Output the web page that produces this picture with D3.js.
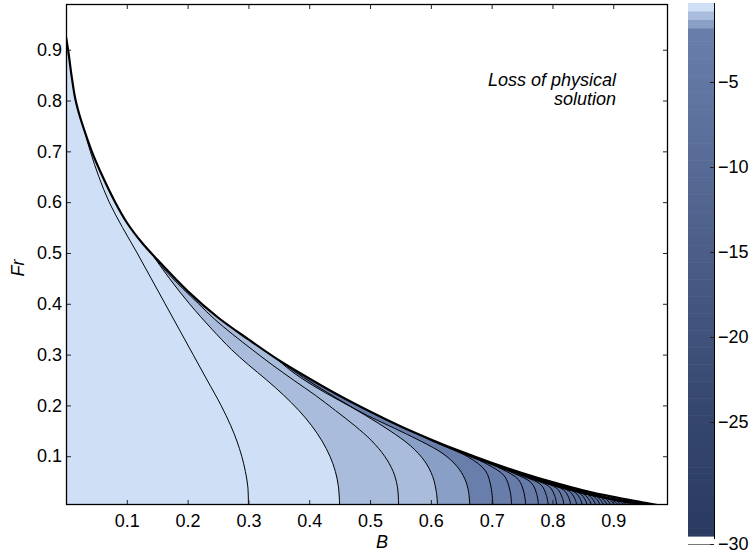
<!DOCTYPE html>
<html>
<head>
<meta charset="utf-8">
<script src="https://d3js.org/d3.v7.min.js"></script>
<style>
  body { margin: 0; background: #fff; }
  svg { display: block; font-family: "Liberation Sans", Arial, Helvetica, sans-serif; }
</style>
</head>
<body>
<div id="chart"></div>
<script>
// edge of the physical solution (B, Fr)
const boundaryB  = [0, 0.004, 0.009, 0.015, 0.022, 0.03, 0.045, 0.06, 0.08, 0.10, 0.125, 0.15, 0.20, 0.25, 0.30, 0.35, 0.40, 0.45, 0.50, 0.55, 0.60, 0.65, 0.70, 0.75, 0.80, 0.85, 0.90, 0.95, 0.977];
const boundaryFr = [0.925, 0.895, 0.85, 0.805, 0.772, 0.742, 0.692, 0.651, 0.602, 0.56, 0.52, 0.487, 0.425, 0.373, 0.330, 0.289, 0.253, 0.219, 0.188, 0.159, 0.133, 0.109, 0.087, 0.067, 0.049, 0.033, 0.020, 0.009, 0.003];

// contour levels, one per line below
const levels = [-0.5, -1.0, -1.2, -1.5, -2.0, -2.5, -3.0, -3.5, -4.0, -4.5, -5.0, -5.5, -6.0, -6.5, -7.0, -7.5, -8.0, -8.5, -9.0,
                -9.5, -10.0, -10.5, -11.0, -11.5, -12.0, -12.5, -13.0, -13.5, -14.0, -14.5, -15.0, -15.5, -16.0, -16.5, -17.0, -17.5, -18.0];

// contour lines, points (B, Fr), from the B axis upwards
const contourLines = [
  [[0.300,0.004],[0.299,0.04],[0.295,0.07],[0.289,0.10],[0.281,0.13],[0.271,0.16],[0.255,0.20],[0.232,0.25],[0.209,0.30],[0.186,0.35],[0.163,0.40],[0.140,0.45],[0.117,0.50],[0.093,0.55],[0.071,0.60],[0.054,0.65],[0.040,0.70],[0.026,0.76],[0.012,0.84]],
  [[0.450,0.004],[0.448,0.04],[0.443,0.07],[0.434,0.10],[0.421,0.13],[0.404,0.16],[0.383,0.19],[0.358,0.22],[0.330,0.25],[0.300,0.28],[0.272,0.31],[0.240,0.35],[0.203,0.40],[0.170,0.45],[0.140,0.50],[0.112,0.55]],
  [[0.547,0.004],[0.545,0.04],[0.538,0.07],[0.524,0.10],[0.503,0.13],[0.475,0.16],[0.443,0.19],[0.410,0.22],[0.374,0.25],[0.339,0.28],[0.306,0.31],[0.274,0.34],[0.244,0.37],[0.218,0.40],[0.192,0.43],[0.160,0.47],[0.122,0.53]],
  [[0.611,0.004],[0.609,0.03],[0.603,0.06],[0.590,0.09],[0.567,0.12],[0.533,0.15],[0.493,0.18],[0.451,0.21],[0.410,0.24],[0.372,0.27],[0.336,0.30],[0.302,0.33],[0.270,0.36],[0.232,0.40]],
  [[0.664,0.004],[0.662,0.03],[0.656,0.055],[0.643,0.08],[0.620,0.105],[0.583,0.13],[0.540,0.155],[0.496,0.18],[0.449,0.21],[0.405,0.24],[0.368,0.27],[0.330,0.31]],
  [[0.702,0.004],[0.699,0.039],[0.690,0.071],[0.662,0.098],[0.602,0.130],[0.502,0.189]],
  [[0.733,0.004],[0.730,0.033],[0.721,0.061],[0.693,0.084],[0.633,0.115],[0.533,0.171]],
  [[0.756,0.004],[0.753,0.029],[0.744,0.054],[0.716,0.075],[0.656,0.104],[0.556,0.158]],
  [[0.777,0.004],[0.774,0.026],[0.765,0.048],[0.737,0.066],[0.677,0.095],[0.577,0.147]],
  [[0.793,0.004],[0.790,0.023],[0.781,0.044],[0.753,0.060],[0.693,0.088],[0.593,0.139]],
  [[0.807,0.004],[0.804,0.021],[0.795,0.040],[0.767,0.055],[0.707,0.082],[0.607,0.132]],
  [[0.819,0.004],[0.816,0.019],[0.807,0.037],[0.779,0.051],[0.719,0.077],[0.619,0.126]],
  [[0.830,0.004],[0.827,0.018],[0.818,0.034],[0.790,0.047],[0.730,0.073],[0.630,0.121]],
  [[0.840,0.004],[0.837,0.016],[0.828,0.031],[0.800,0.043],[0.740,0.069],[0.640,0.116]],
  [[0.849,0.004],[0.846,0.015],[0.837,0.029],[0.809,0.040],[0.749,0.065],[0.649,0.111]],
  [[0.857,0.004],[0.854,0.014],[0.845,0.027],[0.817,0.038],[0.757,0.062],[0.657,0.108]],
  [[0.864,0.004],[0.861,0.013],[0.852,0.025],[0.824,0.035],[0.764,0.060],[0.664,0.105]],
  [[0.871,0.004],[0.868,0.012],[0.859,0.024],[0.831,0.033],[0.771,0.057],[0.671,0.102]],
  [[0.878,0.004],[0.875,0.012],[0.866,0.022],[0.838,0.031],[0.778,0.055],[0.678,0.099]],
  [[0.884,0.004],[0.881,0.011],[0.872,0.021],[0.844,0.029],[0.784,0.053],[0.684,0.096]],
  [[0.890,0.004],[0.887,0.010],[0.878,0.020],[0.850,0.027],[0.790,0.051],[0.690,0.093]],
  [[0.896,0.004],[0.893,0.0095],[0.884,0.019],[0.856,0.025],[0.796,0.048],[0.696,0.091]],
  [[0.902,0.004],[0.899,0.009],[0.890,0.018],[0.862,0.024],[0.802,0.046],[0.702,0.088]],
  [[0.908,0.004],[0.905,0.008],[0.896,0.016],[0.868,0.022],[0.808,0.044],[0.708,0.086]],
  [[0.913,0.004],[0.910,0.0077],[0.901,0.015],[0.873,0.021],[0.813,0.043],[0.713,0.084]],
  [[0.918,0.004],[0.915,0.0072],[0.906,0.0146],[0.878,0.020],[0.818,0.041],[0.718,0.082]],
  [[0.923,0.004],[0.920,0.0067],[0.911,0.0137],[0.883,0.018],[0.823,0.040],[0.723,0.080]],
  [[0.928,0.004],[0.925,0.0062],[0.916,0.0129],[0.888,0.017],[0.828,0.038],[0.728,0.078]],
  [[0.933,0.004],[0.930,0.0057],[0.921,0.012],[0.893,0.016],[0.833,0.036],[0.733,0.076]],
  [[0.938,0.004],[0.935,0.0052],[0.926,0.0112],[0.898,0.0145],[0.838,0.035],[0.738,0.074]],
  [[0.942,0.004],[0.939,0.0049],[0.930,0.0105],[0.902,0.0136],[0.842,0.0336],[0.742,0.072]],
  [[0.946,0.004],[0.943,0.0047],[0.934,0.0098],[0.906,0.0127],[0.846,0.032],[0.746,0.071]],
  [[0.950,0.004],[0.947,0.0046],[0.938,0.009],[0.910,0.012],[0.850,0.031],[0.750,0.069]],
  [[0.954,0.004],[0.951,0.0045],[0.942,0.0084],[0.914,0.011],[0.854,0.030],[0.754,0.068]],
  [[0.958,0.004],[0.955,0.0045],[0.946,0.0077],[0.918,0.010],[0.858,0.029],[0.758,0.066]],
  [[0.962,0.004],[0.960,0.0045],[0.950,0.0070],[0.922,0.0092],[0.862,0.028],[0.762,0.065]],
  [[0.966,0.004],[0.964,0.0045],[0.954,0.0063],[0.926,0.0083],[0.866,0.027],[0.766,0.063]]
];

const xTicks = [0.1, 0.2, 0.3, 0.4, 0.5, 0.6, 0.7, 0.8, 0.9];
const yTicks = [0.1, 0.2, 0.3, 0.4, 0.5, 0.6, 0.7, 0.8, 0.9];
const cbarTicks = [-5, -10, -15, -20, -25, -30];
const cbarTickPos = [82, 167, 252, 337, 422, 544];
const noteLines = ["Loss of physical", "solution"];

const width = 752, height = 554;
const plot = { left: 66, right: 668, top: 4, bottom: 505 };
const cbar = { left: 688, right: 714, top: 3, bottom: 536 };

const x = d3.scaleLinear().domain([0, 0.99]).range([plot.left, plot.right]);
const y = d3.scaleLinear().domain([0.004, 0.99]).range([plot.bottom, plot.top]);

// colour map: three flat light steps, then a blue ramp
const ramp = d3.scaleLinear().domain([-1.75, -29.6]).range(["#6a7fac", "#2a3a60"]).clamp(true);
function fillColor(v) {
  if (v > -0.75) return "#cfe0f6";
  if (v > -1.25) return "#a9bcdc";
  if (v > -1.75) return "#8a9fc6";
  return ramp(v);
}

const svg = d3.select("#chart").append("svg")
  .attr("width", width)
  .attr("height", height);

const defs = svg.append("defs");

const line = d3.line()
  .x(d => x(d[0]))
  .y(d => y(d[1]))
  .curve(d3.curveCatmullRom.alpha(0.5));

const boundary = d3.zip(boundaryB, boundaryFr);
const boundaryPath = line(boundary);
const underBoundary = boundaryPath + `L${x(0.99)},${plot.bottom + 2}L${plot.left},${plot.bottom + 2}Z`;

defs.append("clipPath").attr("id", "plot-clip")
  .append("rect")
  .attr("x", plot.left).attr("y", plot.top)
  .attr("width", plot.right - plot.left).attr("height", plot.bottom - plot.top);

defs.append("clipPath").attr("id", "solution-clip")
  .append("path").attr("d", underBoundary);

const plotG = svg.append("g").attr("clip-path", "url(#plot-clip)");
const fieldG = plotG.append("g").attr("clip-path", "url(#solution-clip)");

// filled bands: base colour, then each level over it
fieldG.append("path")
  .attr("d", underBoundary)
  .attr("fill", fillColor(0));

fieldG.selectAll("path.band")
  .data(contourLines)
  .join("path")
  .attr("class", "band")
  .attr("d", pts => {
    const last = pts[pts.length - 1];
    return line(pts) + `L${x(last[0])},-50L${width + 50},-50L${width + 50},${height + 50}L${x(pts[0][0])},${height + 50}Z`;
  })
  .attr("fill", (d, i) => fillColor(levels[i]));

fieldG.selectAll("path.contour")
  .data(contourLines)
  .join("path")
  .attr("class", "contour")
  .attr("d", line)
  .attr("fill", "none")
  .attr("stroke", "#000")
  .attr("stroke-width", 1);

plotG.append("path")
  .attr("d", boundaryPath)
  .attr("fill", "none")
  .attr("stroke", "#000")
  .attr("stroke-width", 2.2);

// axes, ticks pointing inwards on all four sides
const fontSize = 18;
function styleAxis(g) {
  g.select(".domain").remove();
  g.attr("font-size", fontSize).attr("font-family", null);
  g.selectAll(".tick line").attr("stroke", "#222");
  g.selectAll(".tick text").attr("fill", "#000");
}

svg.append("g")
  .attr("transform", `translate(0,${plot.bottom})`)
  .call(d3.axisBottom(x).tickValues(xTicks).tickSizeInner(-5).tickSizeOuter(0).tickPadding(9).tickFormat(d3.format(".1f")))
  .call(styleAxis);

svg.append("g")
  .attr("transform", `translate(0,${plot.top})`)
  .call(d3.axisTop(x).tickValues(xTicks).tickSizeInner(-5).tickSizeOuter(0).tickFormat(""))
  .call(styleAxis);

svg.append("g")
  .attr("transform", `translate(${plot.left},0)`)
  .call(d3.axisLeft(y).tickValues(yTicks).tickSizeInner(-5).tickSizeOuter(0).tickPadding(4).tickFormat(d3.format(".1f")))
  .call(styleAxis);

svg.append("g")
  .attr("transform", `translate(${plot.right},0)`)
  .call(d3.axisRight(y).tickValues(yTicks).tickSizeInner(-5).tickSizeOuter(0).tickFormat(""))
  .call(styleAxis);

svg.append("rect")
  .attr("x", plot.left + 0.5).attr("y", plot.top + 0.5)
  .attr("width", plot.right - plot.left - 1).attr("height", plot.bottom - plot.top - 1)
  .attr("fill", "none")
  .attr("stroke", "#000")
  .attr("stroke-width", 1.3);

// axis titles
svg.append("text")
  .attr("x", 382).attr("y", 548)
  .attr("text-anchor", "middle")
  .attr("font-size", fontSize)
  .attr("font-style", "italic")
  .text("B");

svg.append("text")
  .attr("transform", "translate(24,268) rotate(-90)")
  .attr("text-anchor", "middle")
  .attr("font-size", fontSize)
  .attr("font-style", "italic")
  .text("Fr");

// annotation
svg.append("text")
  .attr("text-anchor", "end")
  .attr("font-size", fontSize)
  .attr("font-style", "italic")
  .selectAll("tspan")
  .data(noteLines)
  .join("tspan")
  .attr("x", 616)
  .attr("y", (d, i) => 86 + i * 19)
  .text(d => d);

// colour bar
const cbY = d3.scaleLinear()
  .domain([-0.35].concat(cbarTicks))
  .range([cbar.top].concat(cbarTickPos));

const cbValues = d3.range(-0.35, cbY.invert(cbar.bottom), -0.25);
svg.append("g")
  .selectAll("rect")
  .data(cbValues)
  .join("rect")
  .attr("x", cbar.left)
  .attr("y", d => cbY(d))
  .attr("width", cbar.right - cbar.left)
  .attr("height", d => Math.min(cbar.bottom, cbY(d - 0.25)) - cbY(d) + 0.6)
  .attr("fill", d => fillColor(d - 0.125));

svg.append("line")
  .attr("x1", cbar.left).attr("x2", cbar.right)
  .attr("y1", cbarTickPos[cbarTickPos.length - 1] + 0.5).attr("y2", cbarTickPos[cbarTickPos.length - 1] + 0.5)
  .attr("stroke", "#777");

svg.append("g")
  .attr("transform", `translate(${cbar.right},0)`)
  .call(d3.axisRight(cbY).tickValues(cbarTicks).tickSizeInner(-4).tickSizeOuter(0).tickPadding(4).tickFormat(d3.format("d")))
  .call(styleAxis);

svg.append("line")
  .attr("x1", cbar.right + 0.5).attr("x2", cbar.right + 0.5)
  .attr("y1", cbar.top).attr("y2", cbar.bottom + 3)
  .attr("stroke", "#000");
</script>
</body>
</html>
